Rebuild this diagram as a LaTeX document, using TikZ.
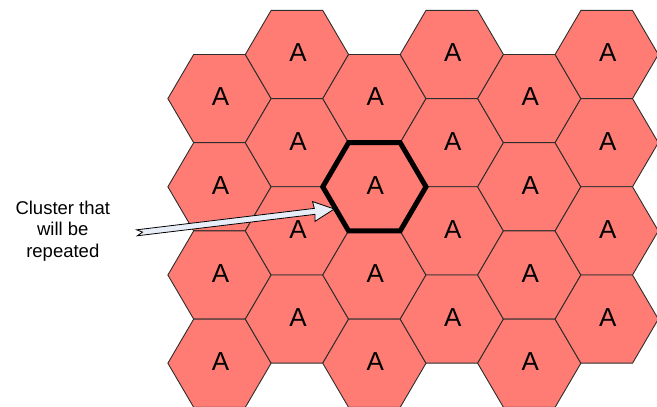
\documentclass[tikz,border=0pt]{standalone}
\usepackage{fontspec}
\setmainfont{Liberation Sans}
\definecolor{cellfill}{RGB}{255,124,116}
\definecolor{celledge}{RGB}{45,45,45}
\definecolor{arrowfill}{RGB}{232,238,248}
\tikzset{
  cell/.style={fill=cellfill, draw=celledge, line width=0.9pt, line join=miter},
  celllabel/.style={font=\fontsize{26}{30}\selectfont, anchor=base, inner sep=0pt},
  cluster/.style={draw=black, line width=5pt, line join=miter},
  callout/.style={fill=arrowfill, draw=black, line width=0.8pt, line join=miter},
  note/.style={font=\fontsize{18.5}{21.7}\selectfont, align=center, inner sep=0pt, anchor=base}
}
% flat-topped hexagon around a named centre
\newcommand{\hexcell}[2][cell]{%
  \draw[#1] ([xshift=-51.63pt]#2) -- ++(25.815,44.1) -- ++(51.63,0)
    -- ++(25.815,-44.1) -- ++(-25.815,-44.1) -- ++(-51.63,0) -- cycle;}
\begin{document}
\begin{tikzpicture}[x=1pt,y=1pt]
\useasboundingbox (0,0) rectangle (657,407);
\begin{scope}
\clip (0,0) rectangle (657,407);
% six staggered columns of four cells
\foreach \i in {0,...,5}{
  \foreach \k in {0,...,3}{
    \pgfmathsetmacro{\cx}{219.5+77.44*\i}
    \pgfmathsetmacro{\cy}{407-98.6+44.1*mod(\i,2)-88.2*\k}
    \coordinate (c-\i-\k) at (\cx,\cy);
    \hexcell{c-\i-\k}
    \node[celllabel] (a-\i-\k) at ([xshift=1pt,yshift=-7.4pt]c-\i-\k) {A};
  }
}
% callout arrow
\coordinate (tail) at (137,174.2);
\begin{scope}[shift={(tail)}, rotate=6.88]
  \draw[callout] (0,3) -- (179,3) -- (178,10) -- (198.7,0) -- (178,-10)
    -- (179,-3) -- (0,-3) -- (5.6,0) -- cycle;
  \coordinate (tip) at (198.7,0);
\end{scope}
% highlighted cluster cell
\hexcell[cluster]{c-2-1}
\end{scope}
\node[note] (note) at (62.8,149.5) {Cluster that\\will be\\repeated};
\end{tikzpicture}
\end{document}
